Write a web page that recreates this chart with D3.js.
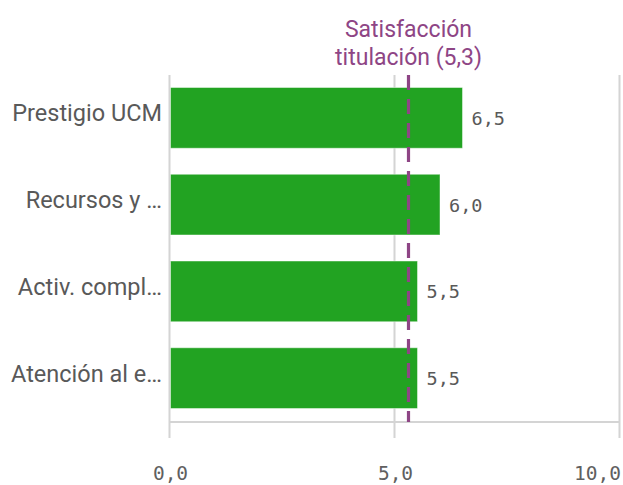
<!DOCTYPE html>
<html>
<head>
<meta charset="utf-8">
<script src="https://cdn.jsdelivr.net/npm/d3@7"></script>
<style>
  html, body { margin: 0; padding: 0; background: #fff; }
  svg { display: block; }
</style>
</head>
<body>
<svg id="chart" width="623" height="485"></svg>
<script>
// Categories (labels as shown, truncated) and their scores
const categories = ["Prestigio UCM", "Recursos y …", "Activ. compl…", "Atención al e…"];
const values = [6.5, 6.0, 5.5, 5.5];
// Reference value: overall degree satisfaction
const refLabel = ["Satisfacción", "titulación (5,3)"];
const refValue = 5.3;
const xTicks = [0, 5, 10];

const fmt = v => d3.format(".1f")(v).replace(".", ",");

const svg = d3.select("#chart");
const W = 623, H = 485;
const plot = { left: 170, right: 620, top: 75, bottom: 422 };

const x = d3.scaleLinear().domain([0, 10]).range([plot.left, plot.right]);
const y = d3.scaleBand().domain(categories)
  .range([74.5, 421.5]).paddingInner(0.3).paddingOuter(0.15);

const grey = "#d4d4d4";
const textGrey = "#595959";
const purple = "#8e4585";
const green = "#22a322";
const labelFont = "Roboto, 'Noto Sans', sans-serif";
const numFont = "'DejaVu Sans Mono', monospace";

// Vertical gridlines
svg.append("g").selectAll("line").data(xTicks).join("line")
  .attr("x1", d => Math.min(x(d) - 0.5, W - 3.5)).attr("x2", d => Math.min(x(d) - 0.5, W - 3.5))
  .attr("y1", plot.top).attr("y2", 438)
  .attr("stroke", grey).attr("stroke-width", 2);

// Bottom axis
const axis = svg.append("g").attr("transform", `translate(0,${plot.bottom})`)
  .call(d3.axisBottom(x).tickValues(xTicks).tickSize(0).tickPadding(0).tickFormat(fmt));
axis.select(".domain").attr("stroke", grey).attr("stroke-width", 2)
  .attr("d", `M${plot.left - 1},0H${plot.right}`);
axis.selectAll(".tick text")
  .attr("y", 58)
  .attr("dy", 0)
  .attr("fill", "#606060")
  .style("font-family", numFont)
  .style("font-size", "19.5px")
  .attr("text-anchor", (d, i) => i === xTicks.length - 1 ? "end" : "middle")
  .attr("x", (d, i) => i === xTicks.length - 1 ? 0.5 : 0);

// Bars
svg.append("g").selectAll("rect").data(categories).join("rect")
  .attr("x", x(0) + 0.5)
  .attr("y", d => y(d))
  .attr("width", (d, i) => x(values[i]) - x(0) - 0.5)
  .attr("height", y.bandwidth())
  .attr("fill", green)
  .attr("stroke", "rgba(255,255,255,0.45)")
  .attr("stroke-width", 1);

// Value labels
svg.append("g").selectAll("text").data(categories).join("text")
  .attr("x", (d, i) => x(values[i]) + 9)
  .attr("y", d => y(d) + y.bandwidth() / 2 + 7)
  .attr("fill", textGrey)
  .style("font-family", numFont)
  .style("font-size", "18.5px")
  .text((d, i) => fmt(values[i]));

// Category labels
svg.append("g").selectAll("text").data(categories).join("text")
  .attr("x", 162)
  .attr("y", d => y(d) + y.bandwidth() / 2 + 3.5)
  .attr("text-anchor", "end")
  .attr("fill", textGrey)
  .style("font-family", labelFont)
  .style("font-size", "23.5px")
  .text(d => d);

// Reference line
svg.append("line")
  .attr("x1", x(refValue)).attr("x2", x(refValue))
  .attr("y1", plot.top).attr("y2", plot.bottom)
  .attr("stroke", purple).attr("stroke-width", 3.2)
  .attr("stroke-dasharray", "15,9");

// Reference label
svg.append("g").selectAll("text").data(refLabel).join("text")
  .attr("x", x(refValue))
  .attr("y", (d, i) => 37 + i * 28)
  .attr("text-anchor", "middle")
  .attr("fill", purple)
  .style("font-family", labelFont)
  .style("font-size", "23px")
  .text(d => d);
</script>
</body>
</html>
